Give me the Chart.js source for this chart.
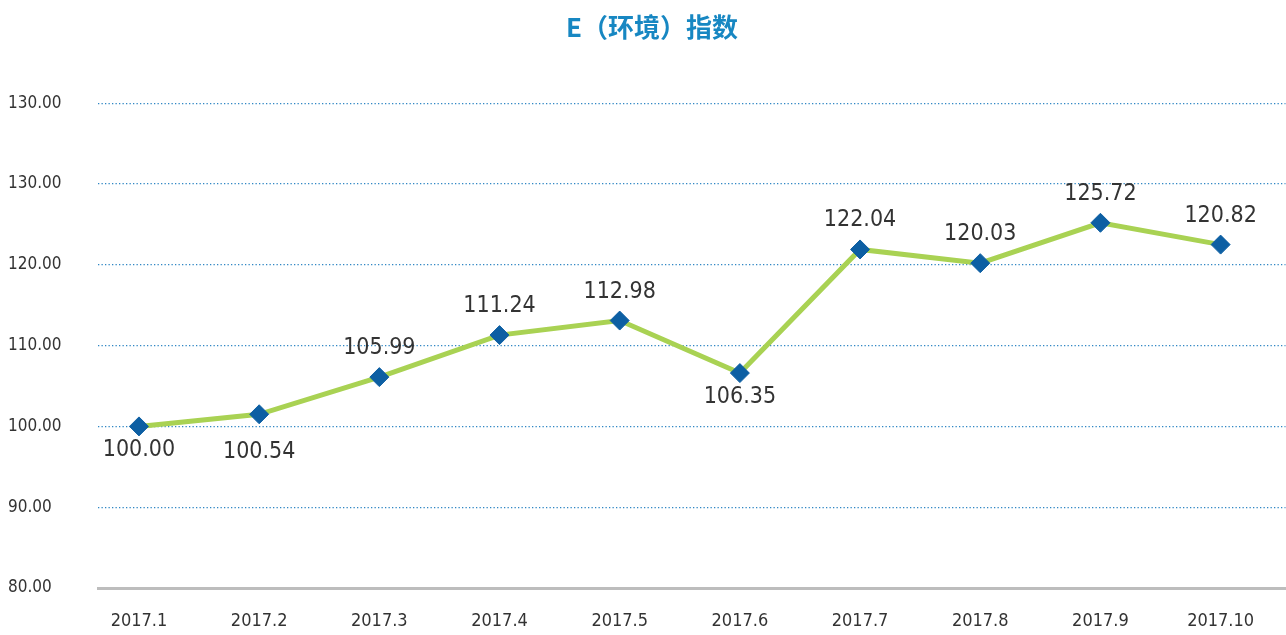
<!DOCTYPE html>
<html>
<head>
<meta charset="utf-8">
<script src="https://cdn.jsdelivr.net/npm/chart.js@4/dist/chart.umd.min.js"></script>
<style>
html,body{margin:0;padding:0;background:#fff;overflow:hidden;}
#wrap{width:1286px;height:635px;position:relative;overflow:hidden;}
</style>
</head>
<body>
<div id="wrap"><canvas id="c" width="1296" height="635"></canvas></div>
<script>
// ---- data ----
const titleText = 'E（环境）指数';
const categories = ['2017.1','2017.2','2017.3','2017.4','2017.5','2017.6','2017.7','2017.8','2017.9','2017.10'];
// plotted heights of the points as drawn in the reference
const seriesValues = [100.0, 101.5, 106.1, 111.3, 113.1, 106.6, 121.9, 120.2, 125.2, 122.5];
// value labels printed next to each point
const valueLabels = ['100.00','100.54','105.99','111.24','112.98','106.35','122.04','120.03','125.72','120.82'];
const labelSide = ['below','below','above','above','above','below','above','above','above','above'];
// y-axis tick labels (bottom to top) as printed
const yTickLabels = ['80.00','90.00','100.00','110.00','120.00','130.00','130.00'];
const yMin = 80, yMax = 140, yStep = 10;

const narrow = '"Liberation Sans Narrow", "DejaVu Sans Condensed", "Liberation Sans", sans-serif';

const valueLabelPlugin = {
  id: 'valueLabels',
  afterDatasetsDraw(chart) {
    const meta = chart.getDatasetMeta(0);
    const ctx = chart.ctx;
    ctx.save();
    ctx.font = '23px ' + narrow;
    ctx.fillStyle = '#333333';
    ctx.textAlign = 'center';
    ctx.textBaseline = 'middle';
    meta.data.forEach((pt, i) => {
      const off = labelSide[i] === 'above' ? -29 : (i === 1 ? 38 : 24);
      ctx.fillText(valueLabels[i], pt.x, pt.y + off);
    });
    ctx.restore();
  }
};

const points = seriesValues.map((v, i) => ({x: i, y: v}));

new Chart(document.getElementById('c'), {
  type: 'line',
  data: {
    datasets: [
      {
        data: points,
        borderColor: '#a9d253',
        borderWidth: 5,
        pointStyle: 'rectRot',
        pointRadius: 9.5,
        pointBackgroundColor: '#0d5fa3',
        pointBorderColor: '#0d5fa3',
        pointBorderWidth: 1,
        tension: 0
      },
      {
        data: points,
        showLine: false,
        pointStyle: 'circle',
        pointRadius: 2,
        pointBackgroundColor: '#a9d253',
        pointBorderWidth: 0
      }
    ]
  },
  options: {
    responsive: false,
    animation: false,
    layout: { padding: { left: 8, right: 0, top: 0, bottom: 0 } },
    plugins: {
      legend: { display: false },
      tooltip: { enabled: false },
      title: {
        display: true,
        text: titleText,
        color: '#1787c2',
        font: { family: '"Noto Sans CJK SC", sans-serif', size: 26, weight: 'bold' },
        padding: { top: 12, bottom: 60 }
      }
    },
    scales: {
      x: {
        type: 'linear',
        min: -0.341,
        max: 9.54,
        afterBuildTicks(scale) {
          scale.ticks = categories.map((c, i) => ({ value: i }));
        },
        afterFit(scale) {
          scale.height = 47;
          scale.paddingLeft = 0;
          scale.paddingRight = 0;
        },
        grid: { display: false, drawTicks: false },
        border: { color: '#bdbdbd', width: 3 },
        ticks: {
          padding: 23,
          color: '#333333',
          font: { family: narrow, size: 18 },
          maxRotation: 0,
          autoSkip: false,
          callback: (v) => categories[v]
        }
      },
      y: {
        min: yMin,
        max: yMax,
        afterFit(scale) { scale.width = 90; },
        grid: {
          color: '#2f86c4',
          lineWidth: 1.3,
          drawTicks: false
        },
        border: { display: false, dash: [1.3, 2.2] },
        ticks: {
          stepSize: yStep,
          crossAlign: 'far',
          color: '#333333',
          font: { family: narrow, size: 17 },
          callback: (v, idx) => yTickLabels[idx]
        }
      }
    }
  },
  plugins: [valueLabelPlugin]
});
</script>
</body>
</html>
